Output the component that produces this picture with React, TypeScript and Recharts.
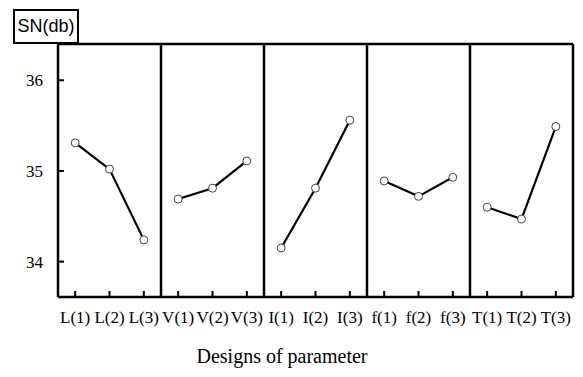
import { Line, LineChart, ReferenceLine, XAxis, YAxis } from 'recharts'

const CATEGORIES = [
  'L(1)', 'L(2)', 'L(3)',
  'V(1)', 'V(2)', 'V(3)',
  'I(1)', 'I(2)', 'I(3)',
  'f(1)', 'f(2)', 'f(3)',
  'T(1)', 'T(2)', 'T(3)',
]
const L_VALUES = [35.31, 35.02, 34.24]
const V_VALUES = [34.69, 34.81, 35.11]
const I_VALUES = [34.15, 34.81, 35.56]
const F_VALUES = [34.89, 34.72, 34.93]
const T_VALUES = [34.6, 34.47, 35.49]
const Y_TICKS = [34, 35, 36]
const DIVIDERS = [3, 6, 9, 12, 15]

const groups = [L_VALUES, V_VALUES, I_VALUES, F_VALUES, T_VALUES]
// each category sits at the middle of its slot (i + 0.5) on a 0..15 axis
const data = CATEGORIES.map((name, i) => {
  const row: Record<string, string | number | null> = { name, pos: i + 0.5 }
  groups.forEach((vals, g) => {
    const k = i - g * 3
    row['s' + g] = k >= 0 && k < 3 ? vals[k] : null
  })
  return row
})
const X_TICKS = data.map((d) => d.pos as number)

const serif = '"Liberation Serif", "Times New Roman", serif'

const XTick = (p: any) => (
  <g>
    <line x1={p.x} x2={p.x} y1={p.y} y2={p.y - 6} stroke="#000" strokeWidth={2} />
    <text x={p.x} y={p.y + 26} textAnchor="middle" fontFamily={serif} fontSize={17} fill="#000">
      {CATEGORIES[Math.floor(p.payload.value)]}
    </text>
  </g>
)

const YTick = (p: any) => (
  <g>
    <line x1={p.x} x2={p.x + 6} y1={p.y} y2={p.y} stroke="#000" strokeWidth={2} />
    <text x={p.x - 15} y={p.y + 6} textAnchor="end" fontFamily={serif} fontSize={17} fill="#000">
      {p.payload.value}
    </text>
  </g>
)

const dot = { r: 4, fill: '#fff', stroke: '#444', strokeWidth: 1 }

export default function App() {
  return (
    <div style={{ position: 'absolute', left: 0, top: 0, width: 583, height: 377, background: '#fff' }}>
      <LineChart width={583} height={377} data={data} margin={{ top: 44, right: 10, bottom: 50, left: 18 }}>
        <XAxis
          dataKey="pos"
          type="number"
          domain={[0, 15]}
          allowDataOverflow
          ticks={X_TICKS}
          height={30}
          tick={<XTick />}
          tickLine={false}
          tickSize={0}
          tickMargin={0}
          interval={0}
          axisLine={{ stroke: '#000', strokeWidth: 2.5 }}
        />
        <YAxis
          width={40}
          domain={[33.61, 36.4]}
          allowDataOverflow
          ticks={Y_TICKS}
          tick={<YTick />}
          tickLine={false}
          tickSize={0}
          tickMargin={0}
          axisLine={{ stroke: '#000', strokeWidth: 2.5 }}
        />
        <ReferenceLine y={36.4} stroke="#000" strokeWidth={2.5} />
        {DIVIDERS.map((d) => (
          <ReferenceLine key={d} x={d} stroke="#000" strokeWidth={2.5} />
        ))}
        {groups.map((_, g) => (
          <Line
            key={g}
            dataKey={'s' + g}
            stroke="#000"
            strokeWidth={2.2}
            dot={dot}
            activeDot={false}
            isAnimationActive={false}
          />
        ))}
      </LineChart>
      <div
        style={{
          position: 'absolute', left: 13, top: 9, width: 62, height: 31,
          border: '2px solid #000', background: '#fff',
          fontFamily: '"Liberation Sans", Arial, sans-serif', fontSize: 18,
          lineHeight: '31px', textAlign: 'center', color: '#000',
        }}
      >
        SN(db)
      </div>
      <div
        style={{
          position: 'absolute', left: 0, width: 564, top: 345, textAlign: 'center',
          fontFamily: serif, fontSize: 20, color: '#000',
        }}
      >
        Designs of parameter
      </div>
    </div>
  )
}
